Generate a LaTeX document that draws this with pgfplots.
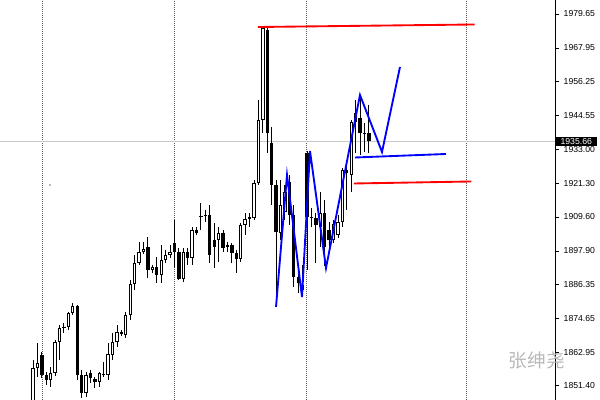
\documentclass[border=0pt]{standalone}
\usepackage{pgfplots}
\pgfplotsset{compat=1.18}
\usepackage{pgfplotstable}
\usepackage{fontspec}
\setmainfont{Liberation Sans}
\newfontfamily\cjk{Noto Sans CJK SC}
\definecolor{wm}{RGB}{185,185,185}
\definecolor{pline}{RGB}{200,200,200}
\definecolor{sep}{RGB}{90,90,90}

\pgfplotstableread{
i o h l c
0 1844.73 1860.26 1843.00 1857.50
1 1857.50 1866.12 1854.39 1859.22
2 1861.98 1863.02 1854.05 1855.08
3 1855.08 1856.12 1851.63 1853.36
4 1853.36 1857.84 1850.94 1855.77
5 1855.77 1867.16 1854.74 1866.47
6 1866.47 1872.33 1860.26 1871.30
7 1871.30 1873.02 1869.57 1871.64
8 1871.64 1876.82 1870.61 1876.48
9 1876.48 1879.93 1875.78 1878.89
10 1878.89 1879.24 1853.36 1855.08
11 1855.08 1856.81 1847.14 1848.87
12 1848.87 1856.12 1847.49 1855.08
13 1855.77 1856.81 1852.32 1854.05
14 1853.70 1854.39 1850.59 1852.67
15 1852.67 1856.12 1850.94 1855.77
16 1855.43 1859.57 1854.39 1855.08
17 1855.08 1866.12 1853.36 1862.33
18 1861.98 1869.57 1860.26 1866.47
19 1866.47 1872.33 1864.74 1869.92
20 1869.92 1870.61 1868.54 1869.23
21 1868.88 1876.82 1867.85 1875.78
22 1875.78 1887.86 1874.06 1886.48
23 1886.48 1896.49 1884.41 1893.73
24 1893.73 1900.97 1893.04 1897.52
25 1897.52 1900.97 1896.83 1898.56
26 1899.25 1902.70 1888.55 1891.31
27 1891.31 1893.04 1890.28 1892.35
28 1892.35 1895.80 1886.83 1889.59
29 1889.59 1899.94 1886.83 1894.76
30 1894.76 1898.21 1893.73 1896.49
31 1896.49 1899.94 1895.45 1897.52
32 1900.63 1908.57 1892.00 1897.52
33 1897.52 1898.90 1887.86 1888.21
34 1888.21 1898.90 1887.17 1897.52
35 1897.52 1898.90 1893.04 1895.45
36 1895.45 1906.15 1893.04 1905.12
37 1905.12 1906.15 1903.39 1904.08
38 1909.60 1914.43 1905.12 1909.95
39 1909.95 1912.02 1907.88 1910.29
40 1910.29 1913.74 1893.73 1896.49
41 1901.67 1907.53 1892.00 1899.25
42 1901.67 1906.15 1894.07 1904.08
43 1904.08 1905.12 1897.52 1898.90
44 1899.25 1900.97 1897.52 1899.94
45 1899.94 1900.63 1893.73 1897.18
46 1897.18 1898.21 1890.28 1895.11
47 1895.11 1907.53 1894.07 1906.84
48 1906.84 1910.98 1903.39 1908.91
49 1908.91 1910.98 1906.15 1909.60
50 1909.26 1922.37 1908.57 1921.33
51 1921.33 1949.97 1920.64 1943.07
52 1943.07 1975.16 1938.59 1974.82
53 1974.13 1974.82 1931.69 1938.59
54 1935.14 1940.66 1913.74 1920.64
55 1920.64 1922.37 1879.24 1904.43
56 1904.08 1922.37 1901.67 1913.74
57 1911.33 1920.64 1908.57 1918.23
58 1921.68 1924.09 1906.84 1910.29
59 1910.29 1913.74 1885.45 1888.90
60 1888.90 1893.73 1883.38 1886.83
61 1886.14 1893.04 1882.00 1884.41
62 1931.69 1932.38 1891.31 1909.60
63 1909.60 1912.71 1906.15 1909.26
64 1909.26 1910.98 1893.73 1906.84
65 1906.15 1918.23 1899.25 1910.98
66 1910.98 1915.47 1892.69 1899.25
67 1905.12 1907.88 1897.52 1901.67
68 1901.67 1908.57 1900.63 1907.19
69 1903.39 1910.29 1902.36 1907.88
70 1907.88 1926.51 1906.15 1925.82
71 1925.82 1929.27 1912.02 1924.78
72 1924.09 1943.07 1918.23 1942.38
73 1942.38 1949.97 1931.69 1945.49
74 1943.76 1951.70 1931.00 1938.59
75 1938.24 1942.04 1932.03 1938.59
76 1938.59 1948.25 1931.69 1935.66
}\ohlc

\begin{document}
\begin{tikzpicture}
\begin{axis}[
  at={(0,0)}, anchor=south west,
  scale only axis, width=416.25pt, height=300pt,
  xmin=-7.466, xmax=118.10, ymin=1846.45, ymax=1984.48,
  clip mode=individual,
  axis line style={draw=none},
  xtick={2.04,31.9,61.76,97.96}, xticklabels={},
  xtick style={draw=none},
  xmajorgrids,
  major x grid style={sep, line width=0.6pt, dash pattern=on 0.6pt off 0.9pt},
  ytick={1851.40,1862.95,1874.65,1886.35,1897.90,1909.60,1921.30,1933.00,1944.55,1956.25,1967.95,1979.65},
  yticklabels={1851.40,1862.95,1874.65,1886.35,1897.90,1909.60,1921.30,1933.00,1944.55,1956.25,1967.95,1979.65},
  ytick pos=right, yticklabel pos=right,
  tick align=outside, major tick length=3pt,
  ytick style={black, line width=0.5pt},
  yticklabel style={font=\fontsize{6.5}{7}\selectfont, anchor=west},
]
% current price line
\addplot[pline, line width=0.6pt, forget plot] coordinates {(-7.466,1935.66) (118.10,1935.66)};
% wicks
\addplot[draw=none, mark=none, forget plot,
  error bars/.cd, y dir=plus, y explicit, error mark=none,
  error bar style={draw=black, line width=0.7pt}]
  table[x=i, y=l, y error plus expr={\thisrow{h}-\thisrow{l}}] {\ohlc};
% bodies (outline / black fill)
\addplot[draw=none, mark=none, forget plot,
  error bars/.cd, y dir=plus, y explicit, error mark=none,
  error bar style={draw=black, line width=2.5pt}]
  table[x=i, y expr={min(\thisrow{o},\thisrow{c})}, y error plus expr={max(abs(\thisrow{c}-\thisrow{o}),0.35)}] {\ohlc};
% white interior of bullish candles
\addplot[draw=none, mark=none, forget plot,
  error bars/.cd, y dir=plus, y explicit, error mark=none,
  error bar style={draw=white, line width=1.0pt}]
  table[x=i, y expr={\thisrow{c}>\thisrow{o}+0.7 ? \thisrow{o}+0.35 : 1700}, y error plus expr={max(\thisrow{c}-\thisrow{o}-0.7,0)}] {\ohlc};
% tiny dot
\addplot[only marks, mark=*, mark size=0.35pt, gray, forget plot] coordinates {(3.85,1920.64)};
% red lines
\addplot[red, line width=1.4pt, mark=none, forget plot] coordinates {(50.9,1975.16) (99.89,1976.03)};
\addplot[red, line width=1.4pt, mark=none, forget plot] coordinates {(72.62,1921.16) (99.2,1921.85)};
% blue lines
\addplot[blue, line width=1.4pt, mark=none, forget plot] coordinates {(72.85,1930.13) (93.44,1931.34)};
\addplot[blue, line width=1.4pt, mark=none, line join=miter, forget plot] coordinates {
 (54.98,1878.55) (57.47,1924.09) (60.86,1882.00) (62.67,1932.38)
 (66.29,1892.00) (73.98,1951.70) (78.96,1932.03) (83.03,1961.36)};
% right axis line
\draw[black, line width=0.6pt] (rel axis cs:1,0) -- (rel axis cs:1,1);
% watermark
\node[font=\cjk\fontsize{14}{14}\selectfont, text=wm] at (axis cs:114.0,1860.26) {张绅尧};
% current price label
\node[fill=black, text=white, anchor=west, inner xsep=4pt, inner ysep=1pt, font=\fontsize{6.5}{7}\selectfont] at (axis cs:118.10,1935.66) {1935.66};
\end{axis}
\pgfresetboundingbox
\path[use as bounding box] (0,0) rectangle (450pt,300pt);
\end{tikzpicture}
\end{document}
